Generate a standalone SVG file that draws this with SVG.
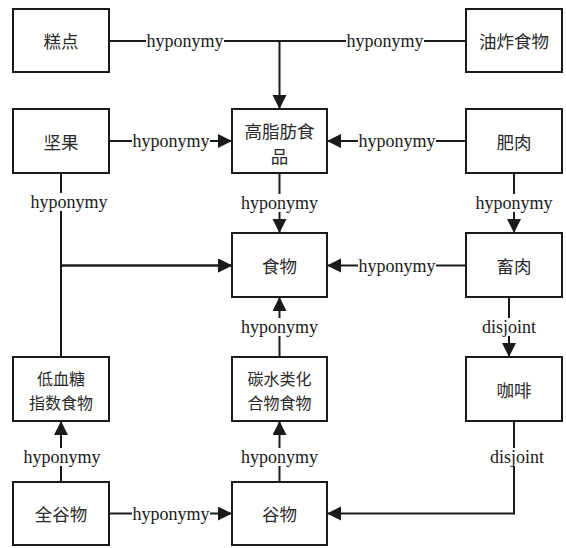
<svg xmlns="http://www.w3.org/2000/svg" width="566" height="548" viewBox="0 0 566 548">
<style>
.box{fill:#fff;stroke:#1a1a1a;stroke-width:2}
.cn{font-family:"Noto Sans CJK SC","Noto Sans",sans-serif;font-size:17.5px;fill:#2a2a2a;text-anchor:middle;dominant-baseline:central}
.cn2{font-size:16px}
.ln{fill:none;stroke:#1a1a1a;stroke-width:2}
.lb{font-family:"Liberation Serif","Times New Roman",serif;font-size:18px;fill:#1a1a1a;text-anchor:middle;dominant-baseline:central}
.bg{fill:#fff}
</style>
<defs>
<marker id="arr" markerUnits="userSpaceOnUse" markerWidth="16" markerHeight="16" refX="14" refY="7" orient="auto">
<path d="M0,0 L14,7 L0,14 Z" fill="#1a1a1a"/>
</marker>
</defs>
<g id="connectors">
<path class="ln" d="M109,41 H279.5 V109" marker-end="url(#arr)"/>
<path class="ln" d="M466,41 H279.5"/>
<path class="ln" d="M109,141 H232" marker-end="url(#arr)"/>
<path class="ln" d="M466,141 H327" marker-end="url(#arr)"/>
<path class="ln" d="M61,173 V265.5 H232" marker-end="url(#arr)"/>
<path class="ln" d="M61,357 V265.5 H232" marker-end="url(#arr)"/>
<path class="ln" d="M279.5,173 V233" marker-end="url(#arr)"/>
<path class="ln" d="M466,265.5 H327" marker-end="url(#arr)"/>
<path class="ln" d="M514,173 V233" marker-end="url(#arr)"/>
<path class="ln" d="M509,297 V357" marker-end="url(#arr)"/>
<path class="ln" d="M514,421 V513.5 H327" marker-end="url(#arr)"/>
<path class="ln" d="M279.5,357 V297" marker-end="url(#arr)"/>
<path class="ln" d="M61,482 V421" marker-end="url(#arr)"/>
<path class="ln" d="M109,513.5 H232" marker-end="url(#arr)"/>
<path class="ln" d="M279.5,482 V421" marker-end="url(#arr)"/>
<g id="labels">
<rect class="bg" x="146" y="33" width="78" height="16"/><text class="lb" x="185" y="41">hyponymy</text>
<rect class="bg" x="346" y="33" width="78" height="16"/><text class="lb" x="385" y="41">hyponymy</text>
<rect class="bg" x="132" y="133" width="78" height="16"/><text class="lb" x="171" y="141">hyponymy</text>
<rect class="bg" x="358" y="133" width="78" height="16"/><text class="lb" x="397" y="141">hyponymy</text>
<rect class="bg" x="30" y="193" width="78" height="18"/><text class="lb" x="69" y="202">hyponymy</text>
<rect class="bg" x="240" y="194" width="78" height="18"/><text class="lb" x="279.5" y="203">hyponymy</text>
<rect class="bg" x="475" y="194" width="78" height="18"/><text class="lb" x="514" y="203">hyponymy</text>
<rect class="bg" x="358" y="257" width="78" height="16"/><text class="lb" x="397" y="265.5">hyponymy</text>
<rect class="bg" x="481" y="318" width="56" height="18"/><text class="lb" x="509" y="327">disjoint</text>
<rect class="bg" x="240" y="318" width="78" height="18"/><text class="lb" x="279.5" y="327">hyponymy</text>
<rect class="bg" x="489" y="448" width="56" height="18"/><text class="lb" x="517" y="457">disjoint</text>
<rect class="bg" x="23" y="448" width="78" height="18"/><text class="lb" x="62" y="457">hyponymy</text>
<rect class="bg" x="240" y="448" width="78" height="18"/><text class="lb" x="279.5" y="457">hyponymy</text>
<rect class="bg" x="132" y="505" width="78" height="16"/><text class="lb" x="171" y="513.5">hyponymy</text>
</g>
</g>
<g id="n_gaodian"><rect class="box" x="13" y="9" width="96" height="63"/><text class="cn" x="61" y="40.5">糕点</text></g>
<g id="n_youzha"><rect class="box" x="466" y="9" width="96" height="63"/><text class="cn" x="514" y="40.5">油炸食物</text></g>
<g id="n_jianguo"><rect class="box" x="13" y="109" width="96" height="64"/><text class="cn" x="61" y="141">坚果</text></g>
<g id="n_gaozhifang"><rect class="box" x="232" y="109" width="95" height="64"/><text class="cn" x="279.5" y="130">高脂肪食</text><text class="cn" x="279.5" y="155">品</text></g>
<g id="n_feirou"><rect class="box" x="466" y="109" width="96" height="64"/><text class="cn" x="514" y="141">肥肉</text></g>
<g id="n_shiwu"><rect class="box" x="232" y="233" width="95" height="64"/><text class="cn" x="279.5" y="265">食物</text></g>
<g id="n_churou"><rect class="box" x="466" y="233" width="96" height="64"/><text class="cn" x="514" y="265">畜肉</text></g>
<g id="n_dixuetang"><rect class="box" x="13" y="357" width="96" height="64"/><text class="cn cn2" x="61" y="377.5">低血糖</text><text class="cn cn2" x="61" y="401.5">指数食物</text></g>
<g id="n_tanshui"><rect class="box" x="232" y="357" width="95" height="64"/><text class="cn cn2" x="279.5" y="377.5">碳水类化</text><text class="cn cn2" x="279.5" y="401.5">合物食物</text></g>
<g id="n_kafei"><rect class="box" x="466" y="357" width="96" height="64"/><text class="cn" x="514" y="389">咖啡</text></g>
<g id="n_quangu"><rect class="box" x="13" y="482" width="96" height="63"/><text class="cn" x="61" y="513.5">全谷物</text></g>
<g id="n_guwu"><rect class="box" x="232" y="482" width="95" height="63"/><text class="cn" x="279.5" y="513.5">谷物</text></g>
</svg>
